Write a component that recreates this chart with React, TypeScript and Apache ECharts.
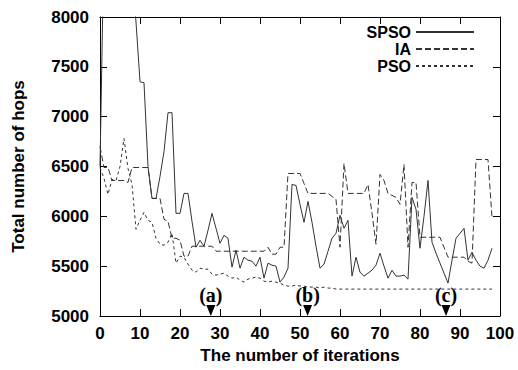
import React, { useEffect, useRef } from "react";
import * as echarts from "echarts";

const iterations = Array.from({ length: 99 }, (_, i) => i);

const spso = [
  6500, 8800, 9500, 9800, 9600, 9300, 9000, 8700, 8400, 7950,
  7350, 7340, 6500, 6180, 6180, 6400, 6650, 7040, 7040, 6030,
  6030, 6230, 6230, 5950, 5690, 5760, 5700, 5860, 6030, 5880,
  5730, 5810, 5780, 5490, 5660, 5480, 5590, 5560, 5550, 5500,
  5590, 5380, 5530, 5510, 5500, 5340, 5390, 5480, 6320, 6310,
  6120, 5940, 6150, 5940, 5700, 5480, 5520, 5650, 5780, 5830,
  6010, 5880, 5960, 5400, 5590, 5440, 5400, 5430, 5460, 5510,
  5630, 5500, 5380, 5460, 5400, 5400, 5410, 5370, 6190, 6070,
  5680, 6000, 6360, 5740, 5630, 5530, 5430, 5330, 5560, 5780,
  5830, 5880, 5560, 5640, 5560, 5500, 5480, 5560, 5680,
];

const ia = [
  6700, 6490, 6490, 6360, 6360, 6360, 6360, 6340, 6490, 6490,
  6490, 6490, 6490, 6180, 6180, 6180, 5970, 5950, 5780, 5780,
  5760, 5600, 5600, 5700, 5700, 5700, 5700, 5700, 5700, 5650,
  5650, 5650, 5650, 5650, 5650, 5650, 5650, 5650, 5650, 5650,
  5650, 5650, 5690, 5620, 5620, 5690, 5690, 6430, 6430, 6430,
  6430, 6330, 6230, 6230, 6230, 6230, 6230, 6230, 6200, 6170,
  5690, 6530, 6230, 6230, 6230, 6230, 6230, 6320, 6030, 5720,
  6420, 6360, 6230, 6210, 6190, 6120, 6520, 5690, 6340, 6340,
  5790, 5790, 5790, 5790, 5790, 5790, 5690, 5590, 5590, 5590,
  5590, 5590, 5550, 5530, 6570, 6570, 6570, 6570, 5990,
];

const pso = [
  6490, 6380, 6220, 6370, 6360, 6500, 6780, 6480, 6320, 5870,
  5960, 6040, 5960, 5940, 5780, 5720, 5710, 5740, 5830, 5530,
  5600, 5590, 5520, 5460, 5440, 5480, 5470, 5470, 5420, 5410,
  5420, 5430, 5400, 5380, 5390, 5360, 5340, 5370, 5380, 5390,
  5380, 5350, 5340, 5350, 5340, 5330, 5310, 5300, 5300, 5310,
  5300, 5300, 5290, 5290, 5290, 5280, 5290, 5280, 5280, 5270,
  5270, 5270, 5270, 5270, 5270, 5270, 5270, 5270, 5270, 5270,
  5270, 5270, 5270, 5270, 5270, 5270, 5270, 5270, 5270, 5270,
  5270, 5270, 5270, 5270, 5270, 5270, 5270, 5270, 5270, 5270,
  5270, 5270, 5270, 5270, 5270, 5270, 5270, 5270, 5270,
];

const seriesNames = ["SPSO", "IA", "PSO"];
const markerIters = [27.7, 51.9, 86.5];
const markerLabels = ["(a)", "(b)", "(c)"];
const markerY = 5000;

const xTicks = { min: 0, max: 100, interval: 10 };
const yTicks = { min: 5000, max: 8000, interval: 500 };

const FONT = "'Liberation Sans', Arial, Helvetica, sans-serif";

export default function App() {
  const ref = useRef<HTMLDivElement>(null);

  useEffect(() => {
    document.body.style.margin = "0";
    if (!ref.current) return;
    const chart = echarts.init(ref.current, undefined, { renderer: "svg" });
    const pair = (arr: number[]) => iterations.map((it, i) => [it, arr[i]]);
    const lineColor = "#333";
    const txt = { fontSize: 17, fontWeight: "bold", fontFamily: FONT, color: "#000" };
    const axisCommon = {
      axisLine: { show: true, onZero: false, lineStyle: { color: "#000", width: 1 } },
      axisTick: { show: true, inside: true, length: 7, lineStyle: { color: "#000", width: 1 } },
      splitLine: { show: false },
    };
    chart.setOption({
      animation: false,
      backgroundColor: "#fff",
      grid: { left: 100, right: 18, top: 17, bottom: 54, containLabel: false },
      legend: {
        data: seriesNames,
        orient: "vertical",
        right: 38,
        top: 19,
        align: "right",
        itemWidth: 58,
        itemHeight: 10,
        itemGap: 1,
        itemStyle: { opacity: 0 },
        textStyle: { fontSize: 16, fontWeight: "bold", fontFamily: FONT, color: "#000" },
      },
      xAxis: [
        {
          type: "value",
          ...xTicks,
          position: "bottom",
          ...axisCommon,
          axisLabel: { ...txt, margin: 9 },
          name: "The number of iterations",
          nameLocation: "middle",
          nameGap: 30,
          nameTextStyle: txt,
        },
        {
          type: "value",
          ...xTicks,
          position: "top",
          ...axisCommon,
          axisLabel: { show: false },
        },
      ],
      yAxis: [
        {
          type: "value",
          ...yTicks,
          position: "left",
          ...axisCommon,
          axisLabel: { ...txt, margin: 11, formatter: (v: number) => String(v) },
          name: "Total number of hops",
          nameLocation: "middle",
          nameGap: 73,
          nameTextStyle: txt,
        },
        {
          type: "value",
          ...yTicks,
          position: "right",
          ...axisCommon,
          axisLabel: { show: false },
        },
      ],
      series: [
        {
          name: "SPSO",
          type: "line",
          data: pair(spso),
          symbol: "none",
          clip: true,
          lineStyle: { color: lineColor, width: 1, type: "solid" },
          itemStyle: { color: lineColor },
        },
        {
          name: "IA",
          type: "line",
          data: pair(ia),
          symbol: "none",
          clip: true,
          lineStyle: { color: lineColor, width: 1, type: [6, 3] },
          itemStyle: { color: lineColor },
        },
        {
          name: "PSO",
          type: "line",
          data: pair(pso),
          symbol: "none",
          clip: true,
          lineStyle: { color: lineColor, width: 1, type: [3, 3] },
          itemStyle: { color: lineColor },
        },
        {
          name: "markers",
          type: "scatter",
          data: markerIters.map((m, i) => ({ value: [m, markerY], name: markerLabels[i] })),
          symbol: "triangle",
          symbolRotate: 180,
          symbolSize: [9, 11],
          symbolOffset: [0, -5.5],
          clip: false,
          itemStyle: { color: "#000", opacity: 1 },
          label: {
            show: true,
            position: "top",
            distance: 0,
            formatter: (p: any) => p.name,
            fontFamily: "'Liberation Serif', 'Times New Roman', serif",
            fontWeight: "bold",
            fontSize: 20,
            color: "#000",
            opacity: 1,
          },
          silent: true,
        },
      ],
    });
    return () => chart.dispose();
  }, []);

  return <div ref={ref} style={{ width: 518, height: 370 }} />;
}
